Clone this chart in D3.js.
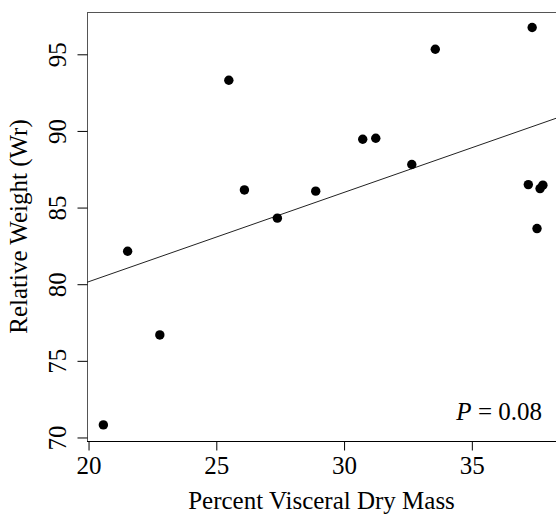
<!DOCTYPE html>
<html>
<head>
<meta charset="utf-8">
<script src="https://cdn.jsdelivr.net/npm/d3@7"></script>
<style>
  body { margin: 0; background: #fff; }
  svg { display: block; }
</style>
</head>
<body>
<script>
// percent visceral dry mass vs relative weight (Wr)
var visceralDryMass = [20.58, 21.53, 22.79, 25.49, 26.10, 27.39, 28.89, 30.73,
                       31.24, 32.65, 33.57, 37.36, 37.21, 37.67, 37.78, 37.55];
var relativeWeight = [70.82, 82.15, 76.69, 93.31, 86.15, 84.31, 86.07, 89.46,
                      89.52, 87.81, 95.33, 96.75, 86.50, 86.24, 86.46, 83.63];
var xTicks = [20, 25, 30, 35];
var yTicks = [70, 75, 80, 85, 90, 95];
var fitIntercept = 68.5;
var fitSlope = 0.583;
var pLabel = "0.08";

var w = 556;
var h = 516;
var padLeft = 87, padTop = 12, padRight = 560, padBottom = 441;
var font = "'Liberation Serif', 'Times New Roman', serif";

var x = d3.scaleLinear().domain([19.94, 38.45]).range([padLeft, padRight]);
var y = d3.scaleLinear().domain([69.77, 97.76]).range([padBottom, padTop]);

var svg = d3.select("body")
            .append("svg")
            .attr("width", w)
            .attr("height", h);

svg.append("defs").append("clipPath")
   .attr("id", "plotclip")
   .append("rect")
   .attr("x", padLeft).attr("y", padTop)
   .attr("width", padRight - padLeft).attr("height", padBottom - padTop);

// box
svg.append("rect")
   .attr("x", padLeft + 0.5).attr("y", padTop + 0.5)
   .attr("width", padRight - padLeft).attr("height", padBottom - padTop)
   .attr("fill", "none")
   .attr("stroke", "#555")
   .attr("stroke-width", 1);

// x axis
var xAxis = svg.append("g")
   .attr("transform", "translate(0," + (padBottom + 0.5) + ")")
   .call(d3.axisBottom(x).tickValues(xTicks).tickSize(9).tickFormat(d3.format("d")));
xAxis.select(".domain").remove();
xAxis.append("line")
   .attr("x1", padLeft).attr("x2", w)
   .attr("stroke", "#000");
xAxis.selectAll(".tick line").attr("stroke", "#000");
xAxis.selectAll(".tick text")
   .attr("font-family", font)
   .attr("font-size", "25px")
   .attr("fill", "#000")
   .attr("y", 32)
   .attr("dy", null);

// y axis
var yAxis = svg.append("g")
   .attr("transform", "translate(" + (padLeft + 0.5) + ",0)")
   .call(d3.axisLeft(y).tickValues(yTicks).tickSize(10).tickFormat(d3.format("d")));
yAxis.select(".domain").remove();
yAxis.selectAll(".tick line").attr("stroke", "#000");
yAxis.selectAll(".tick text")
   .attr("font-family", font)
   .attr("font-size", "25px")
   .attr("fill", "#000")
   .attr("x", null).attr("dy", null)
   .attr("text-anchor", "middle")
   .attr("transform", "translate(-22,0) rotate(-90)");

// fitted line
var xd = x.domain();
svg.append("line")
   .attr("clip-path", "url(#plotclip)")
   .attr("x1", x(xd[0])).attr("y1", y(fitIntercept + fitSlope * xd[0]))
   .attr("x2", x(xd[1])).attr("y2", y(fitIntercept + fitSlope * xd[1]))
   .attr("stroke", "#222")
   .attr("stroke-width", 1);

// points
svg.selectAll("circle")
   .data(visceralDryMass)
   .enter()
   .append("circle")
   .attr("cx", function(d) { return x(d); })
   .attr("cy", function(d, i) { return y(relativeWeight[i]); })
   .attr("r", 4.7)
   .attr("fill", "#000");

// axis titles
svg.append("text")
   .attr("x", (padLeft + w) / 2)
   .attr("y", 509)
   .attr("text-anchor", "middle")
   .attr("font-family", font)
   .attr("font-size", "25px")
   .text("Percent Visceral Dry Mass");

svg.append("text")
   .attr("transform", "translate(27," + ((padTop + padBottom) / 2) + ") rotate(-90)")
   .attr("text-anchor", "middle")
   .attr("font-family", font)
   .attr("font-size", "25px")
   .text("Relative Weight (Wr)");

// p value
var pText = svg.append("text")
   .attr("x", 542)
   .attr("y", 420)
   .attr("text-anchor", "end")
   .attr("font-family", font)
   .attr("font-size", "25px");
pText.append("tspan").attr("font-style", "italic").text("P");
pText.append("tspan").text(" = " + pLabel);
</script>
</body>
</html>
